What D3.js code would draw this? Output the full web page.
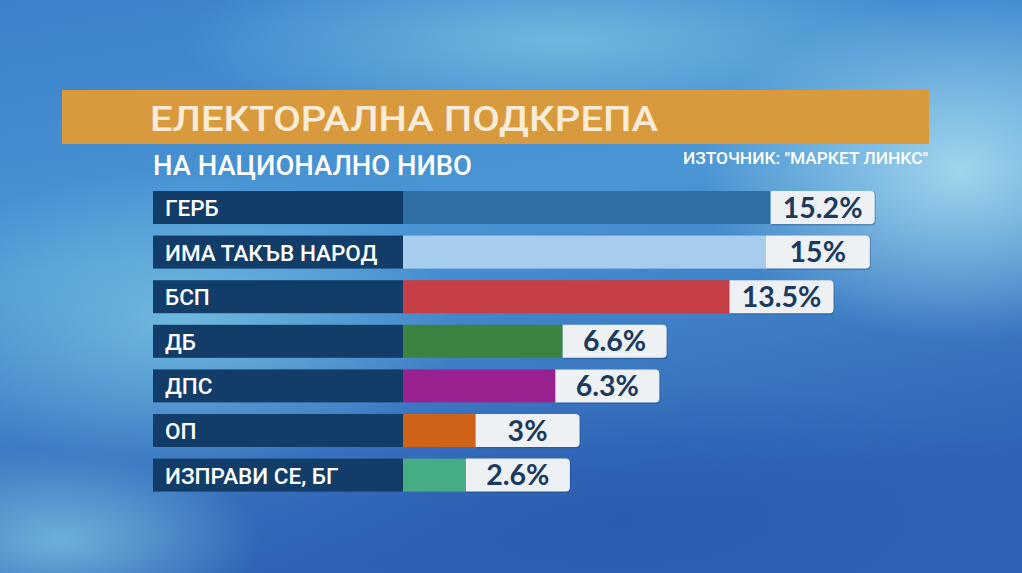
<!DOCTYPE html>
<html lang="bg">
<head>
<meta charset="UTF-8">
<title>Електорална подкрепа</title>
<script src="https://d3js.org/d3.v7.min.js"></script>
<style>
  html, body { margin: 0; padding: 0; background: #3f86cc; overflow: hidden; }
  #chart { width: 1022px; height: 573px; }
</style>
</head>
<body>
<div id="chart"></div>
<script>
// data
var parties = ["ГЕРБ", "ИМА ТАКЪВ НАРОД", "БСП", "ДБ", "ДПС", "ОП", "ИЗПРАВИ СЕ, БГ"];
var values = [15.2, 15, 13.5, 6.6, 6.3, 3, 2.6];
var valueLabels = ["15.2%", "15%", "13.5%", "6.6%", "6.3%", "3%", "2.6%"];
var partyColors = ["#2f6fa6", "#a7cdee", "#c63e46", "#3c8241", "#9a2290", "#cf6418", "#46ac84"];

var title = "ЕЛЕКТОРАЛНА ПОДКРЕПА";
var subtitle = "НА НАЦИОНАЛНО НИВО";
var source = "ИЗТОЧНИК: \"МАРКЕТ ЛИНКС\"";

var W = 1022, H = 573;
var labelX0 = 153, barX0 = 403, boxW = 104;

var svg = d3.select("#chart").append("svg")
    .attr("width", W)
    .attr("height", H);

var defs = svg.append("defs");

// background: blue gradient with lighter glows
var bg = defs.append("linearGradient").attr("id", "bg")
    .attr("x1", 0).attr("y1", 0).attr("x2", 0.3).attr("y2", 1);
bg.append("stop").attr("offset", "0%").attr("stop-color", "#3c82cb");
bg.append("stop").attr("offset", "45%").attr("stop-color", "#4a96d4");
bg.append("stop").attr("offset", "100%").attr("stop-color", "#3163b5");

var glow1 = defs.append("radialGradient").attr("id", "glow1");
glow1.append("stop").attr("offset", "0%").attr("stop-color", "#a9dcef").attr("stop-opacity", 0.9);
glow1.append("stop").attr("offset", "100%").attr("stop-color", "#a9dcef").attr("stop-opacity", 0);

var glow2 = defs.append("radialGradient").attr("id", "glow2");
glow2.append("stop").attr("offset", "0%").attr("stop-color", "#7cc6e3").attr("stop-opacity", 0.75);
glow2.append("stop").attr("offset", "100%").attr("stop-color", "#7cc6e3").attr("stop-opacity", 0);

var glow3 = defs.append("radialGradient").attr("id", "glow3");
glow3.append("stop").attr("offset", "0%").attr("stop-color", "#2a5bb0").attr("stop-opacity", 0.85);
glow3.append("stop").attr("offset", "100%").attr("stop-color", "#2a5bb0").attr("stop-opacity", 0);

svg.append("rect").attr("width", W).attr("height", H).attr("fill", "url(#bg)");
svg.append("ellipse").attr("cx", 960).attr("cy", 170).attr("rx", 260).attr("ry", 170).attr("fill", "url(#glow1)");
svg.append("ellipse").attr("cx", 560).attr("cy", 40).attr("rx", 380).attr("ry", 90).attr("fill", "url(#glow2)");
svg.append("ellipse").attr("cx", 180).attr("cy", 320).attr("rx", 280).attr("ry", 150).attr("fill", "url(#glow2)");
svg.append("ellipse").attr("cx", 620).attr("cy", 520).attr("rx", 440).attr("ry", 140).attr("fill", "url(#glow3)");
svg.append("ellipse").attr("cx", 60).attr("cy", 540).attr("rx", 200).attr("ry", 90).attr("fill", "url(#glow2)");

// title bar
svg.append("rect")
    .attr("x", 62).attr("y", 90)
    .attr("width", 867).attr("height", 54)
    .attr("fill", "#d89a3c");

var condensed = "'Roboto', 'DejaVu Sans', sans-serif";

svg.append("text")
    .attr("x", 150).attr("y", 131)
    .attr("textLength", 508)
    .attr("lengthAdjust", "spacingAndGlyphs")
    .style("font-family", condensed)
    .style("font-size", "35px")
    .style("font-weight", 500)
    .style("fill", "#f8ecd8")
    .text(title);

svg.append("text")
    .attr("x", 153).attr("y", 175)
    .attr("textLength", 319)
    .attr("lengthAdjust", "spacingAndGlyphs")
    .style("font-family", condensed)
    .style("font-size", "28px")
    .style("font-weight", 500)
    .style("fill", "#ffffff")
    .text(subtitle);

svg.append("text")
    .attr("x", 683).attr("y", 164)
    .attr("textLength", 245)
    .attr("lengthAdjust", "spacingAndGlyphs")
    .style("font-family", condensed)
    .style("font-size", "16px")
    .style("font-weight", 500)
    .style("fill", "#ffffff")
    .text(source);

// scales
var y = d3.scaleBand()
    .domain(parties)
    .range([191, 491.6])
    .paddingInner(0.26)
    .paddingOuter(0);

var x = d3.scaleLinear()
    .domain([0, 16])
    .range([barX0, barX0 + 387]);

var color = d3.scaleOrdinal().domain(parties).range(partyColors);

var rows = svg.selectAll("g.row")
    .data(parties.map(function(p, i) { return {party: p, value: values[i], label: valueLabels[i]}; }))
    .enter().append("g")
    .attr("class", "row")
    .attr("transform", function(d) { return "translate(0," + y(d.party) + ")"; });

var bh = y.bandwidth();

// name box
rows.append("rect")
    .attr("x", labelX0).attr("y", 0)
    .attr("width", barX0 - labelX0).attr("height", bh)
    .attr("fill", "#133d69");

rows.append("text")
    .attr("x", 165).attr("y", bh / 2 + 8.5)
    .style("font-family", condensed)
    .style("font-size", "22.5px")
    .style("font-weight", 500)
    .style("fill", "#ffffff")
    .text(function(d) { return d.party; });

// colored bar
rows.append("rect")
    .attr("x", barX0).attr("y", 0)
    .attr("width", function(d) { return x(d.value) - barX0; })
    .attr("height", bh)
    .attr("fill", function(d) { return color(d.party); });

// value box with rounded right corners
function boxPath(x0, w, h, r) {
  return "M" + x0 + ",0H" + (x0 + w - r) + "Q" + (x0 + w) + ",0 " + (x0 + w) + "," + r +
    "V" + (h - r) + "Q" + (x0 + w) + "," + h + " " + (x0 + w - r) + "," + h + "H" + x0 + "Z";
}

rows.append("path")
    .attr("d", function(d) { return boxPath(x(d.value) + 1, boxW, bh + 1.5, 4); })
    .attr("fill", "#1d4470")
    .attr("opacity", 0.35);

rows.append("path")
    .attr("d", function(d) { return boxPath(x(d.value), boxW, bh, 4); })
    .attr("fill", "#eef1f4");

rows.append("text")
    .attr("x", function(d) { return x(d.value) + boxW / 2; })
    .attr("y", bh / 2 + 10)
    .attr("text-anchor", "middle")
    .style("font-family", "'Lato', 'Inter', sans-serif")
    .style("font-size", "28.5px")
    .style("font-weight", "bold")
    .style("fill", "#1b3a5e")
    .text(function(d) { return d.label; });
</script>
</body>
</html>
